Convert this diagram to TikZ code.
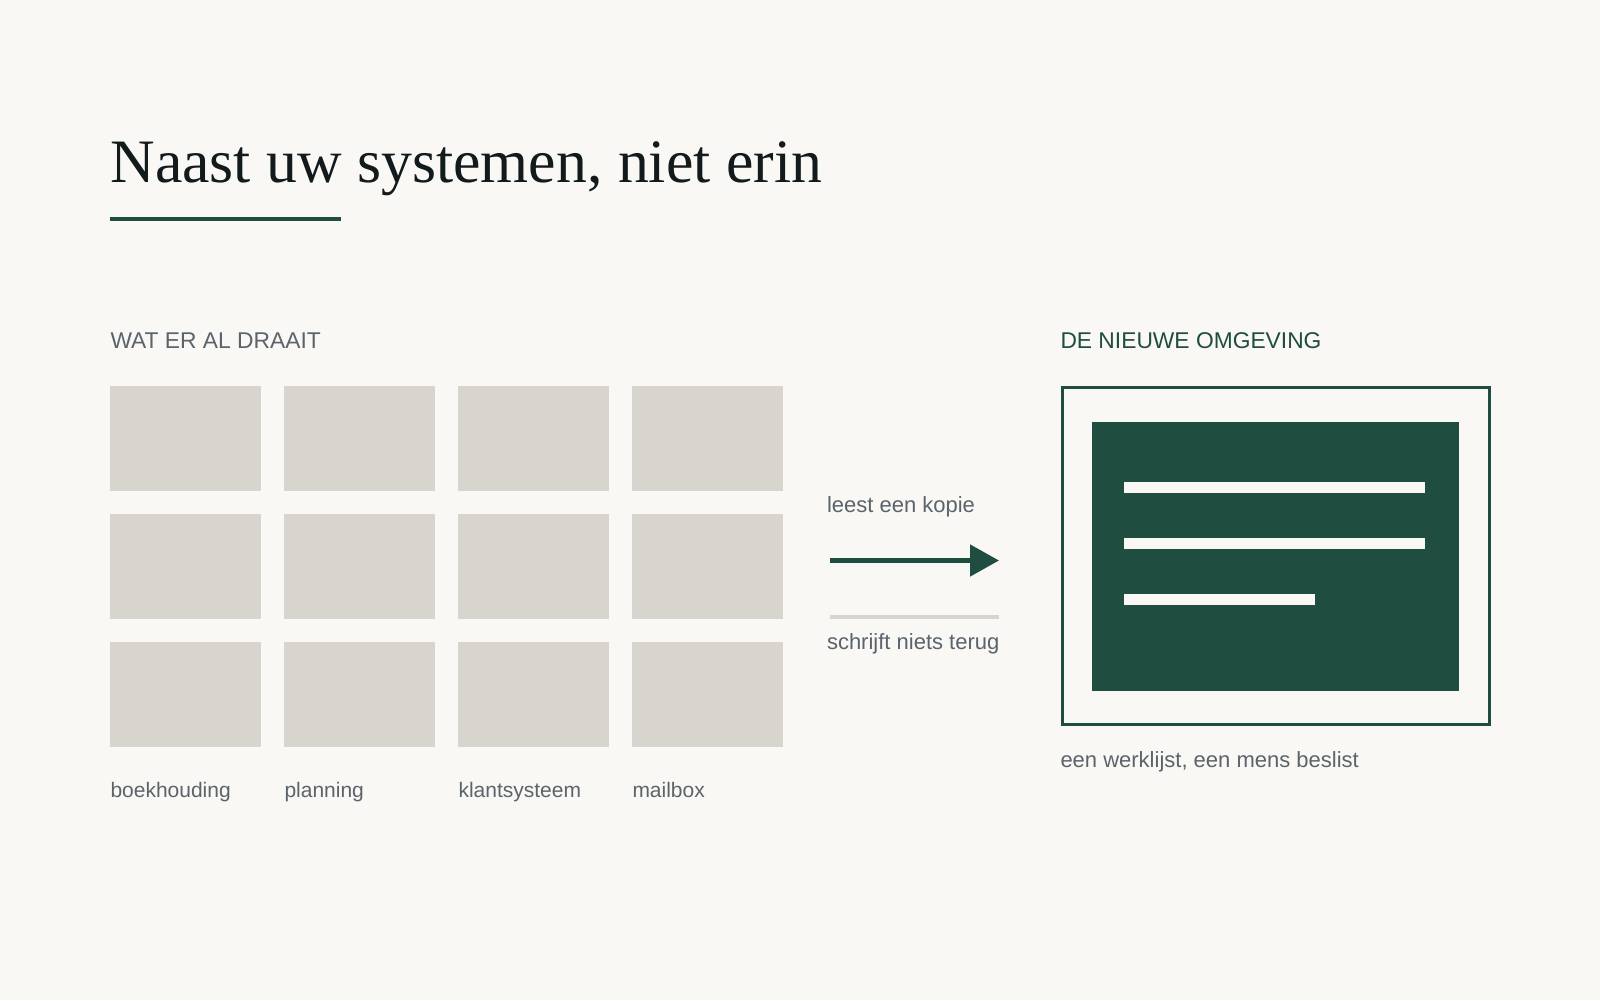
\documentclass[tikz,border=0pt]{standalone}
\usepackage{fontspec}
\setmainfont{Liberation Serif}
\setsansfont{Liberation Sans}
\usetikzlibrary{arrows.meta}

\definecolor{paper}{RGB}{249,248,244}
\definecolor{stone}{RGB}{216,213,206}
\definecolor{pine}{RGB}{31,77,64}
\definecolor{slate}{RGB}{91,99,107}
\definecolor{ink}{RGB}{18,26,28}

\tikzset{every picture/.style={line width=0.75pt}}
\tikzset{
  sysbox/.style={fill=stone, draw=none},
  caption/.style={anchor=base west, inner sep=0pt, font=\sffamily\fontsize{16.5}{20}\selectfont, text=slate},
  syslabel/.style={caption, font=\sffamily\fontsize{15.75}{19}\selectfont},
  headlabel/.style={caption, font=\sffamily\fontsize{17.1}{20}\selectfont},
  bar/.style={fill=paper, draw=none}
}

\begin{document}
\begin{tikzpicture}[x=0.75pt,y=0.75pt,yscale=-1,xscale=1]
%background, sets diagram size 1600 x 1000
\fill [paper] (0,0) rectangle (1600,1000);
\useasboundingbox (0,0) rectangle (1600,1000);

% Title
\node (title) [anchor=base west, inner sep=0pt, text=ink, font=\fontsize{46.3}{52}\selectfont] at (110,182) {Naast uw systemen, niet erin};
%Shape: Line
\draw [pine, line width=2.5pt] (110,219) -- (341,219);

% Text Node
\node (lefthead) [headlabel] at (110,348) {WAT ER AL DRAAIT};
% Text Node
\node (righthead) [headlabel, text=pine] at (1060,348) {DE NIEUWE OMGEVING};

%Shape: Rectangle
\fill [sysbox] (110,386) rectangle (261,491);
%Shape: Rectangle
\fill [sysbox] (284,386) rectangle (435,491);
%Shape: Rectangle
\fill [sysbox] (458,386) rectangle (609,491);
%Shape: Rectangle
\fill [sysbox] (632,386) rectangle (783,491);
%Shape: Rectangle
\fill [sysbox] (110,514) rectangle (261,619);
%Shape: Rectangle
\fill [sysbox] (284,514) rectangle (435,619);
%Shape: Rectangle
\fill [sysbox] (458,514) rectangle (609,619);
%Shape: Rectangle
\fill [sysbox] (632,514) rectangle (783,619);
%Shape: Rectangle
\fill [sysbox] (110,642) rectangle (261,747);
%Shape: Rectangle
\fill [sysbox] (284,642) rectangle (435,747);
%Shape: Rectangle
\fill [sysbox] (458,642) rectangle (609,747);
%Shape: Rectangle
\fill [sysbox] (632,642) rectangle (783,747);

% Text Node
\node (boek) [syslabel] at (110,797) {boekhouding};
% Text Node
\node (plan) [syslabel] at (284,797) {planning};
% Text Node
\node (klant) [syslabel] at (458,797) {klantsysteem};
% Text Node
\node (mail) [syslabel] at (632,797) {mailbox};

% Text Node
\node (leest) [caption] at (826.5,512) {leest een kopie};
\coordinate (readfrom) at (830,560.5);
\coordinate (readto) at (999,560.5);
\draw [pine, line width=3.75pt, -{Triangle[length=21.75pt, width=23.25pt]}] (readfrom) -- (readto);

\coordinate (writefrom) at (830,617);
\coordinate (writeto) at (999,617);
\draw [stone, line width=3pt] (writefrom) -- (writeto);
% Text Node
\node (schrijft) [caption] at (826.5,649) {schrijft niets terug};

%Shape: Rectangle
\draw [pine, line width=2.25pt] (1062.5,387.5) rectangle (1489,724);
%Shape: Rectangle
\fill [pine] (1092,422) rectangle (1459,691);
%Shape: Rectangle
\fill [bar] (1124,482) rectangle (1425,493);
%Shape: Rectangle
\fill [bar] (1124,538) rectangle (1425,549);
%Shape: Rectangle
\fill [bar] (1124,594) rectangle (1315,605);

% Text Node
\node (werk) [caption] at (1060,767) {een werklijst, een mens beslist};

\end{tikzpicture}
\end{document}
